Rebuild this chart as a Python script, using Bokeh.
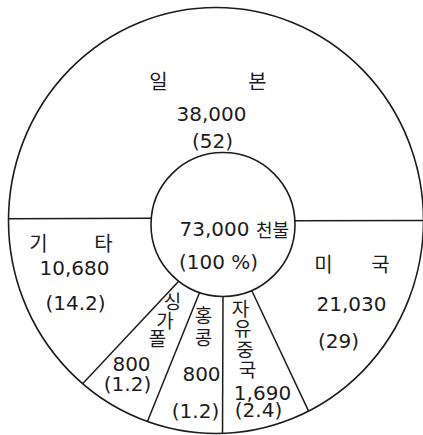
import numpy as np
from bokeh.plotting import figure
from bokeh.models import Range1d, ColumnDataSource
from bokeh.core.properties import value
from bokeh.embed import file_html
from bokeh.resources import INLINE

# ---------------- data ----------------
categories = ["일본", "미국", "자유중국", "홍콩", "싱가폴", "기타"]
values = [38000, 21030, 1690, 800, 800, 10680]      # 천불
shares = [52, 29, 2.4, 1.2, 1.2, 14.2]              # %
total_value = 73000
total_share = 100
unit = "천불"

# ---------------- layout (the drawing is not to scale) ----------------
W, H = 423, 435
OUT_C, OUT_A, OUT_B = (215.5, 220.0), 207.5, 213.0   # outer ring
IN_C, IN_R = (222.5, 224.0), 72.0                     # inner circle
# sector dividers as drawn: (angle on inner circle, angle on outer ring), degrees
dividers = [(3, 0), (175, 179.5), (232, 230), (251, 250.7), (270, 271.8), (293.5, 296.5)]

# label layout per category: name anchor, name step, value pos, share pos, name font size
label_layout = {
    "일본":   dict(name=(158, 80), step=(99, 0), val=(211, 113), shr=(212, 140), fs=20),
    "미국":   dict(name=(323, 263), step=(57, 0), val=(351, 303), shr=(338, 340), fs=20),
    "기타":   dict(name=(38, 242), step=(65, 0), val=(74, 267), shr=(75, 302), fs=20),
    "싱가폴": dict(name=(172, 300), step=(-7.5, 18.5), val=(131, 363), shr=(127, 383), fs=19),
    "홍콩":   dict(name=(203, 314), step=(0, 22), val=(201, 373), shr=(195, 410), fs=19),
    "자유중국": dict(name=(240, 307), step=(2.3, 20.3), val=(262, 392), shr=(258, 409), fs=19),
}

INK = "#1c1c1c"
NUM_FONT = value("DejaVu Sans")
KO_FONT = value("Noto Sans CJK KR")

p = figure(width=W, height=H, x_range=Range1d(0, W), y_range=Range1d(H, 0),
           output_backend="svg", toolbar_location=None, min_border=0,
           x_axis_location=None, y_axis_location=None)
p.grid.visible = False
p.outline_line_color = None
p.background_fill_color = "white"
p.border_fill_color = "white"

# rings
p.ellipse(x=[OUT_C[0]], y=[OUT_C[1]], width=[2 * OUT_A], height=[2 * OUT_B],
          fill_color=None, line_color=INK, line_width=1.6)
p.ellipse(x=[IN_C[0]], y=[IN_C[1]], width=[2 * IN_R], height=[2 * IN_R],
          fill_color=None, line_color=INK, line_width=1.6)

# dividers
ti = np.radians([d[0] for d in dividers])
to = np.radians([d[1] for d in dividers])
x0 = IN_C[0] + IN_R * np.cos(ti)
y0 = IN_C[1] - IN_R * np.sin(ti)
x1 = OUT_C[0] + OUT_A * np.cos(to)
y1 = OUT_C[1] - OUT_B * np.sin(to)
p.segment(x0=x0, y0=y0, x1=x1, y1=y1, line_color=INK, line_width=1.5)

# category names (characters placed one by one, as typed in the original)
cx, cy, ct, cf = [], [], [], []
for cat in categories:
    L = label_layout[cat]
    for i, ch in enumerate(cat):
        cx.append(L["name"][0] + i * L["step"][0])
        cy.append(L["name"][1] + i * L["step"][1])
        ct.append(ch)
        cf.append(f"{L['fs']}px")
p.text(x="x", y="y", text="t", text_font_size="fs",
       source=ColumnDataSource(dict(x=cx, y=cy, t=ct, fs=cf)),
       text_font=KO_FONT, text_align="center", text_baseline="middle", text_color=INK)

# values and shares
vx, vy, vt = [], [], []
for cat, v, s in zip(categories, values, shares):
    L = label_layout[cat]
    vx += [L["val"][0], L["shr"][0]]
    vy += [L["val"][1], L["shr"][1]]
    vt += [f"{v:,}", f"({s:g})"]
p.text(x="x", y="y", text="t", source=ColumnDataSource(dict(x=vx, y=vy, t=vt)),
       text_font=NUM_FONT, text_font_size="20px", text_align="center",
       text_baseline="middle", text_color=INK)

# total in the centre
p.text(x=[214], y=[228], text=[f"{total_value:,}"], text_font=NUM_FONT, text_font_size="20px",
       text_align="center", text_baseline="middle", text_color=INK)
p.text(x=[272], y=[228], text=[unit], text_font=KO_FONT, text_font_size="18px",
       text_align="center", text_baseline="middle", text_color=INK)
p.text(x=[218], y=[261], text=[f"({total_share} %)"], text_font=NUM_FONT, text_font_size="20px",
       text_align="center", text_baseline="middle", text_color=INK)

open("out.html", "w").write(file_html(p, INLINE))
